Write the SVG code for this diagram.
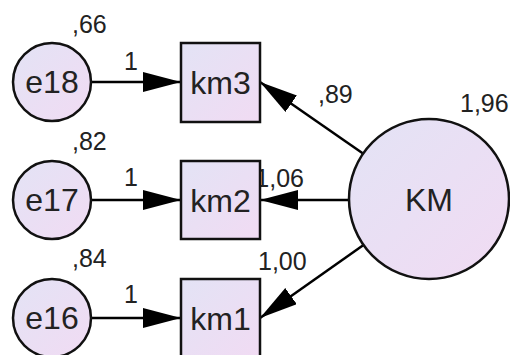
<svg xmlns="http://www.w3.org/2000/svg" width="510" height="355" viewBox="0 0 510 355">
<defs>
<linearGradient id="fill" x1="0" y1="0" x2="1" y2="1">
<stop offset="0" stop-color="#e3e3f5"/>
<stop offset="1" stop-color="#f1dbf3"/>
</linearGradient>
<marker id="ah" markerUnits="userSpaceOnUse" markerWidth="40" markerHeight="22" refX="38" refY="10" orient="auto">
<path d="M0,0 L38,10 L0,20 Z" fill="#000"/>
</marker>
<style>
.n{fill:url(#fill);stroke:#111;stroke-width:2.5}
.t{font-family:"Liberation Sans",Arial,sans-serif;font-size:32px;fill:#222;text-anchor:middle}
.l{font-family:"Liberation Sans",Arial,sans-serif;font-size:25px;fill:#222}
.c{stroke:#000;stroke-width:2.5;fill:none;marker-end:url(#ah)}
</style>
</defs>
<rect width="510" height="355" fill="#fff"/>
<g id="connectors">
<line class="c" x1="91" y1="82" x2="181" y2="82"/>
<line class="c" x1="91" y1="200" x2="181" y2="200"/>
<line class="c" x1="91" y1="318" x2="181" y2="318"/>
<line class="c" x1="363" y1="153.5" x2="260" y2="82"/>
<line class="c" x1="349" y1="200" x2="260" y2="200"/>
<line class="c" x1="363.5" y1="245" x2="260" y2="318"/>
</g>
<g id="labels">
<text class="l" x="72" y="33">,66</text>
<text class="l" x="72" y="150">,82</text>
<text class="l" x="72" y="267">,84</text>
<text class="l" x="124" y="70">1</text>
<text class="l" x="124" y="186">1</text>
<text class="l" x="124" y="303">1</text>
<text class="l" x="318" y="103">,89</text>
<text class="l" x="460" y="112">1,96</text>
<text class="l" x="304" y="187" text-anchor="end">1,06</text>
<text class="l" x="258" y="270">1,00</text>
</g>
<g id="e18"><circle class="n" cx="52" cy="82" r="39"/><text class="t" x="52" y="93">e18</text></g>
<g id="e17"><circle class="n" cx="52" cy="200" r="39"/><text class="t" x="52" y="211">e17</text></g>
<g id="e16"><circle class="n" cx="52" cy="318" r="39"/><text class="t" x="52" y="329">e16</text></g>
<g id="km3"><rect class="n" x="181" y="43" width="79" height="79"/><text class="t" x="220.5" y="94">km3</text></g>
<g id="km2"><rect class="n" x="181" y="161" width="79" height="78"/><text class="t" x="220.5" y="212">km2</text></g>
<g id="km1"><rect class="n" x="181" y="279" width="79" height="79"/><text class="t" x="220.5" y="330">km1</text></g>
<g id="KM"><circle class="n" cx="429" cy="199" r="80"/><text class="t" x="429" y="211">KM</text></g>
</svg>
